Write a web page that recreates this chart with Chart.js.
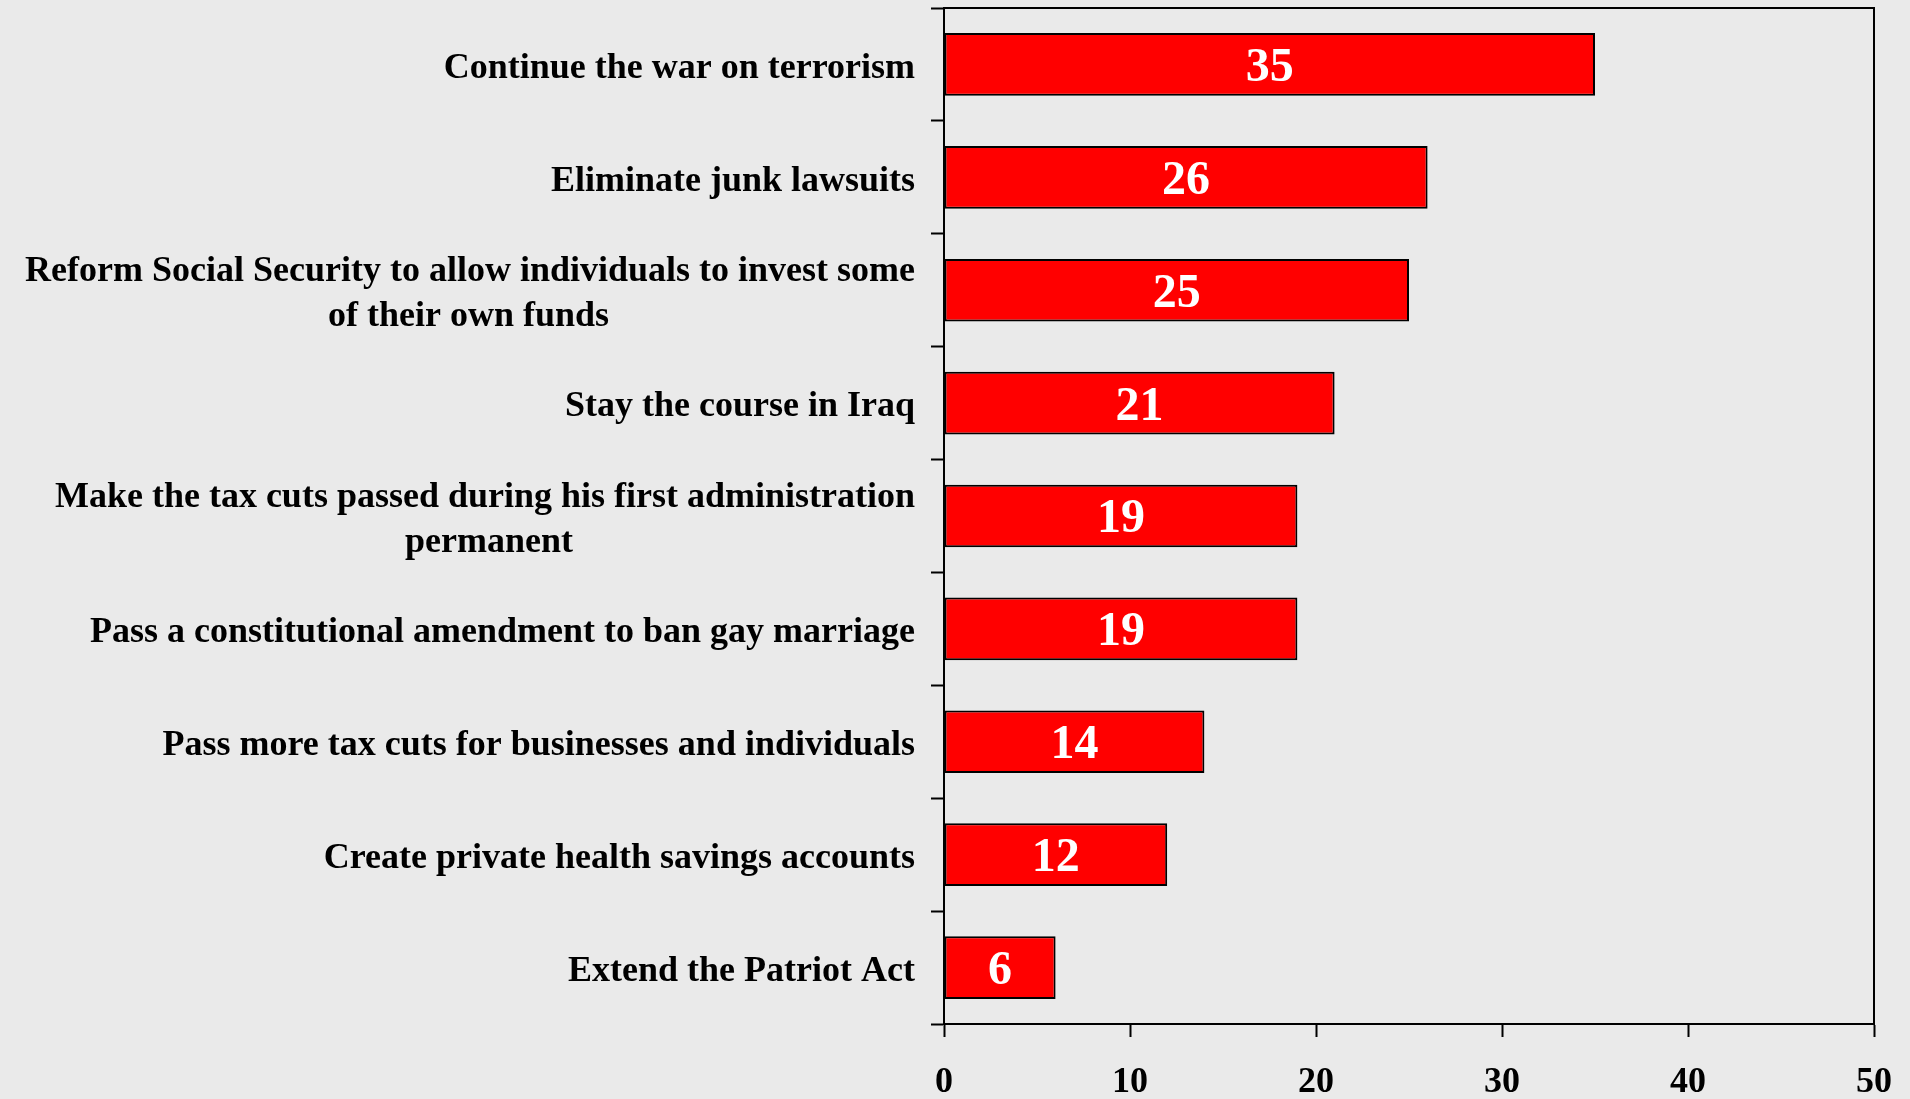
<!DOCTYPE html>
<html>
<head>
<meta charset="utf-8">
<title>Priorities</title>
<script src="https://cdn.jsdelivr.net/npm/chart.js@4.4.1/dist/chart.umd.min.js"></script>
<style>
  html, body { margin: 0; padding: 0; background: #eaeaea; }
  canvas { display: block; }
</style>
</head>
<body>
<canvas id="myChart" width="1910" height="1099"></canvas>
<script>
// data
const categories = [
  ['Continue the war on terrorism'],
  ['Eliminate junk lawsuits'],
  ['Reform Social Security to allow individuals to invest some', 'of their own funds'],
  ['Stay the course in Iraq'],
  ['Make the tax cuts passed during his first administration', 'permanent'],
  ['Pass a constitutional amendment to ban gay marriage'],
  ['Pass more tax cuts for businesses and individuals'],
  ['Create private health savings accounts'],
  ['Extend the Patriot Act']
];
const values = [35, 26, 25, 21, 19, 19, 14, 12, 6];
const xTicks = [0, 10, 20, 30, 40, 50];

const fontFamily = '"Liberation Serif", "Times New Roman", serif';

// two-line labels are centred on each other, so pad the short line with spaces
const measureCtx = document.createElement('canvas').getContext('2d');
measureCtx.font = 'bold 36px ' + fontFamily;
function centerLines(lines) {
  if (lines.length < 2) return lines[0];
  const widths = lines.map(l => measureCtx.measureText(l).width);
  const widest = Math.max(...widths);
  const sp = measureCtx.measureText(' ').width;
  return lines.map((l, i) => l + ' '.repeat(Math.round((widest - widths[i]) / 2 / sp)));
}

const bgPlugin = {
  id: 'bg',
  beforeDraw(chart) {
    const ctx = chart.ctx;
    ctx.save();
    ctx.fillStyle = '#eaeaea';
    ctx.fillRect(0, 0, chart.width, chart.height);
    ctx.restore();
  }
};

// top and right sides of the plot box
const framePlugin = {
  id: 'frame',
  afterDraw(chart) {
    const a = chart.chartArea;
    const ctx = chart.ctx;
    ctx.save();
    ctx.strokeStyle = '#000';
    ctx.lineWidth = 2;
    ctx.beginPath();
    ctx.moveTo(a.left, a.top);
    ctx.lineTo(a.right, a.top);
    ctx.lineTo(a.right, a.bottom);
    ctx.stroke();
    ctx.restore();
  }
};

// white value inside each bar
const valueLabels = {
  id: 'valueLabels',
  afterDatasetsDraw(chart) {
    const ctx = chart.ctx;
    const meta = chart.getDatasetMeta(0);
    ctx.save();
    ctx.fillStyle = '#fff';
    ctx.font = 'bold 48px ' + fontFamily;
    ctx.textAlign = 'center';
    ctx.textBaseline = 'middle';
    meta.data.forEach((bar, i) => {
      ctx.fillText(String(values[i]), (bar.base + bar.x) / 2, bar.y + 4);
    });
    ctx.restore();
  }
};

const data = {
  labels: categories.map(centerLines),
  datasets: [{
    data: values,
    backgroundColor: '#ff0000',
    borderColor: '#000',
    borderWidth: 2,
    borderSkipped: false,
    categoryPercentage: 1,
    barPercentage: 0.555
  }]
};

const config = {
  type: 'bar',
  data: data,
  options: {
    indexAxis: 'y',
    responsive: false,
    animation: false,
    layout: { padding: { top: 8, right: 36, left: 0, bottom: 0 } },
    plugins: { legend: { display: false }, tooltip: { enabled: false } },
    scales: {
      x: {
        type: 'linear',
        position: 'bottom',
        min: 0,
        max: 50,
        afterBuildTicks: s => { s.ticks = xTicks.map(v => ({ value: v })); },
        afterFit: s => { s.height = 75; s.paddingLeft = 0; s.paddingRight = 0; },
        grid: { drawOnChartArea: false, tickLength: 13, tickColor: '#000', tickWidth: 2 },
        border: { display: true, color: '#000', width: 2 },
        ticks: {
          color: '#000',
          padding: 24,
          font: { family: fontFamily, size: 36, weight: 'bold', lineHeight: 1.2 }
        }
      },
      y: {
        type: 'category',
        afterFit: s => { s.width = 944; s.paddingTop = 0; s.paddingBottom = 0; },
        grid: { offset: true, drawOnChartArea: false, tickLength: 13, tickColor: '#000', tickWidth: 2 },
        border: { display: true, color: '#000', width: 2 },
        ticks: {
          color: '#000',
          padding: 16,
          labelOffset: 4,
          autoSkip: false,
          font: { family: fontFamily, size: 36, weight: 'bold', lineHeight: 1.25 }
        }
      }
    }
  },
  plugins: [bgPlugin, valueLabels, framePlugin]
};

const myChart = new Chart(document.getElementById('myChart'), config);
</script>
</body>
</html>
